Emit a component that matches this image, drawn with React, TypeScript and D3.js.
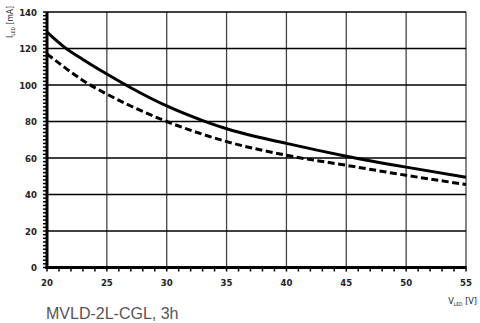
import React from "react";
import * as d3 from "d3";

const solidX = [20, 21.5, 23, 25, 27, 30, 33, 35, 40, 45, 50, 55];
const solidY = [129, 120.5, 114, 106, 98.5, 88.5, 80.5, 76, 68, 61, 55, 49.5];
const dashedX = [20, 21.5, 23, 25, 27, 30, 33, 35, 40, 45, 50, 55];
const dashedY = [117, 109.5, 102.5, 95, 88.5, 80, 73, 69, 61.5, 56, 50.5, 45.5];
const xTicks = [20, 25, 30, 35, 40, 45, 50, 55];
const yTicks = [0, 20, 40, 60, 80, 100, 120, 140];
const title = "MVLD-2L-CGL, 3h";

export default function App() {
  const W = 480, H = 323;
  const x = d3.scaleLinear().domain([20, 55]).range([47, 466]);
  const y = d3.scaleLinear().domain([0, 140]).range([267.5, 12]);
  const line = d3.line<[number, number]>().x(d => x(d[0])).y(d => y(d[1])).curve(d3.curveMonotoneX);
  const solid = line(solidX.map((v, i) => [v, solidY[i]]) as [number, number][]) || "";
  const dashed = line(dashedX.map((v, i) => [v, dashedY[i]]) as [number, number][]) || "";
  const xMinor = d3.range(20, 55.01, 1);
  const yMinor = d3.range(0, 140.01, 2);
  const tickFont = "'Liberation Sans Narrow', 'Arial Narrow', 'DejaVu Sans Condensed', sans-serif";
  return (
    <svg width={W} height={H} style={{ position: "absolute", left: 0, top: 0, background: "#fff" }}>
      {xTicks.map(t => (
        <line key={"gx" + t} x1={x(t)} x2={x(t)} y1={y(140)} y2={y(0)} stroke="#444" strokeWidth={1.3} />
      ))}
      {yTicks.map(t => (
        <line key={"gy" + t} x1={x(20)} x2={x(55)} y1={y(t)} y2={y(t)} stroke="#000" strokeWidth={1.3} />
      ))}
      {xMinor.map(t => (
        <line key={"mx" + t} x1={x(t)} x2={x(t)} y1={y(0)} y2={y(0) + 4} stroke="#000" strokeWidth={1.5} />
      ))}
      {yMinor.map(t => (
        <line key={"my" + t} x1={x(20) - 4} x2={x(20)} y1={y(t)} y2={y(t)} stroke="#000" strokeWidth={1.5} />
      ))}
      <line x1={x(20)} x2={x(20)} y1={y(140)} y2={y(0) + 1.5} stroke="#000" strokeWidth={3} />
      <line x1={x(20) - 1.5} x2={x(55) + 0.6} y1={y(0)} y2={y(0)} stroke="#000" strokeWidth={3} />
      <path d={solid} fill="none" stroke="#000" strokeWidth={3} />
      <path d={dashed} fill="none" stroke="#000" strokeWidth={3} strokeDasharray="7,3.5" />
      {xTicks.map(t => (
        <text key={"tx" + t} x={x(t)} y={286} textAnchor="middle" fontFamily={tickFont} fontSize={9.5} fontWeight="bold" fill="#222">{t}</text>
      ))}
      {yTicks.map(t => (
        <text key={"ty" + t} x={37} y={y(t) + 3.5} textAnchor="end" fontFamily={tickFont} fontSize={9.5} fontWeight="bold" fill="#222">{t}</text>
      ))}
      <text transform="translate(13,22) rotate(-90)" textAnchor="middle" fontFamily={tickFont} fontSize={8.5} fill="#222">
        I<tspan fontSize={5} dy={2}>LED</tspan><tspan dy={-2}> [mA]</tspan>
      </text>
      <text x={477} y={304} textAnchor="end" fontFamily={tickFont} fontSize={9} fill="#222">
        V<tspan fontSize={5} dy={2}>LED</tspan><tspan dy={-2}> [V]</tspan>
      </text>
      <text x={46} y={319} fontFamily="'Liberation Sans', Arial, sans-serif" fontSize={16} fill="#555">{title}</text>
    </svg>
  );
}
